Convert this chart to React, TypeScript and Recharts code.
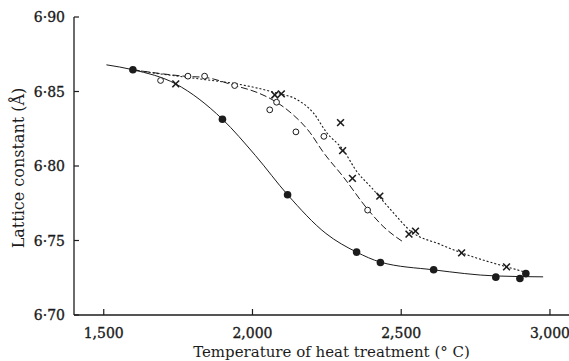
import React from "react";
import { ComposedChart, Line, Scatter, XAxis, YAxis } from "recharts";

// Marker data (temperature °C, lattice constant Å)
const filledX = [1598, 1899, 2118, 2350, 2430, 2609, 2818, 2899, 2919];
const filledY = [6.8646, 6.8314, 6.7807, 6.7422, 6.7352, 6.7304, 6.7254, 6.7245, 6.7278];

const openX = [1691, 1783, 1839, 1940, 2058, 2081, 2146, 2240, 2387];
const openY = [6.8574, 6.8603, 6.8603, 6.854, 6.8377, 6.8428, 6.8229, 6.8199, 6.7704];

const crossX = [1742, 2075, 2097, 2296, 2303, 2336, 2428, 2526, 2548, 2703, 2854];
const crossY = [6.8551, 6.8477, 6.8484, 6.8291, 6.8103, 6.7917, 6.7798, 6.7543, 6.7563, 6.7417, 6.7323];

// Hand-drawn fitted curves
const solidCurveX = [1509, 1598, 1742, 1899, 2010, 2118, 2247, 2350, 2430, 2609, 2818, 2977];
const solidCurveY = [6.8679, 6.8646, 6.8551, 6.8314, 6.807, 6.7807, 6.7547, 6.7422, 6.7355, 6.7303, 6.7262, 6.7256];

const dashedCurveX = [1598, 1700, 1783, 1839, 1940, 2020, 2081, 2126, 2193, 2237, 2305, 2387, 2439, 2506];
const dashedCurveY = [6.8646, 6.8618, 6.8601, 6.8595, 6.854, 6.849, 6.8428, 6.8362, 6.8225, 6.8095, 6.7928, 6.771, 6.7595, 6.7491];

const dottedCurveX = [1598, 1666, 1840, 1950, 2080, 2150, 2204, 2249, 2305, 2350, 2400, 2462, 2537, 2630, 2703, 2854, 2914];
const dottedCurveY = [6.8646, 6.8625, 6.858, 6.855, 6.849, 6.8445, 6.8358, 6.8225, 6.8108, 6.7965, 6.7855, 6.7712, 6.7555, 6.7475, 6.7417, 6.7323, 6.729];

const xTicks = [1500, 2000, 2500, 3000];
const yTicks = [6.7, 6.75, 6.8, 6.85, 6.9];

const xTitle = "Temperature of heat treatment (° C)";
const yTitle = "Lattice constant (Å)";

const zip = (xs: number[], ys: number[]) => xs.map((x, i) => ({ x, y: ys[i] }));

const filled = zip(filledX, filledY);
const open = zip(openX, openY);
const cross = zip(crossX, crossY);
const solidCurve = zip(solidCurveX, solidCurveY);
const dashedCurve = zip(dashedCurveX, dashedCurveY);
const dottedCurve = zip(dottedCurveX, dottedCurveY);

const INK = "#1c1c1c";
const FONT = "'DejaVu Serif', serif";

const XTick = (props: any) => {
  const { x, y, payload } = props;
  return (
    <g>
      <line x1={x} x2={x} y1={y} y2={y - 6} stroke={INK} strokeWidth={1.2} />
      <text x={x} y={y + 18} textAnchor="middle" dominantBaseline="central" fontFamily={FONT} fontSize={14} stroke={INK} strokeWidth={0.35} fill={INK}>
        {Number(payload.value).toLocaleString("en-US")}
      </text>
    </g>
  );
};

const YTick = (props: any) => {
  const { x, y, payload } = props;
  return (
    <g>
      <line x1={x} x2={x + 5} y1={y} y2={y} stroke={INK} strokeWidth={1.2} />
      <text x={x - 9} y={y} textAnchor="end" dominantBaseline="central" fontFamily={FONT} fontSize={14} stroke={INK} strokeWidth={0.35} fill={INK}>
        {Number(payload.value).toFixed(2).replace(".", "·")}
      </text>
    </g>
  );
};

const FilledDot = (p: any) => <circle cx={p.cx} cy={p.cy} r={3.8} fill={INK} />;
const OpenDot = (p: any) => <circle cx={p.cx} cy={p.cy} r={2.9} fill="#fff" stroke={INK} strokeWidth={1} />;
const CrossMark = (p: any) => (
  <g stroke={INK} strokeWidth={1.6}>
    <line x1={p.cx - 3.4} y1={p.cy - 3.4} x2={p.cx + 3.4} y2={p.cy + 3.4} />
    <line x1={p.cx - 3.4} y1={p.cy + 3.4} x2={p.cx + 3.4} y2={p.cy - 3.4} />
  </g>
);

export default function App() {
  return (
    <div style={{ position: "absolute", left: 0, top: 0, background: "#fff" }}>
      <ComposedChart width={569} height={361} margin={{ top: 17, right: 0, bottom: 0, left: 0 }}>
        <XAxis
          type="number"
          dataKey="x"
          domain={[1400, 3064]}
          ticks={xTicks}
          allowDataOverflow
          height={46}
          tickSize={0}
          tickMargin={0}
          tick={<XTick />}
          axisLine={{ stroke: INK, strokeWidth: 1.3 }}
          label={{
            content: (props: any) => {
              const vb = props.viewBox;
              return (
                <text x={vb.x + vb.width / 2 + 10} y={352} textAnchor="middle" dominantBaseline="central" fontFamily={FONT} fontSize={15} fill={INK}>
                  {xTitle}
                </text>
              );
            },
          }}
        />
        <YAxis
          type="number"
          dataKey="y"
          domain={[6.7, 6.9]}
          ticks={yTicks}
          allowDataOverflow
          width={74}
          tickSize={0}
          tickMargin={0}
          tick={<YTick />}
          axisLine={{ stroke: INK, strokeWidth: 1.3 }}
          label={{
            content: (props: any) => {
              const vb = props.viewBox;
              const cx = 18;
              const cy = vb.y + vb.height / 2 + 2;
              return (
                <text x={cx} y={cy} transform={`rotate(-90, ${cx}, ${cy})`} textAnchor="middle" dominantBaseline="central" fontFamily={FONT} fontSize={16} fill={INK}>
                  {yTitle}
                </text>
              );
            },
          }}
        />
        <Line data={solidCurve} dataKey="y" type="monotone" dot={false} activeDot={false} stroke={INK} strokeWidth={1} isAnimationActive={false} />
        <Line data={dashedCurve} dataKey="y" type="monotone" dot={false} activeDot={false} stroke={INK} strokeWidth={1} strokeDasharray="7 3" isAnimationActive={false} />
        <Line data={dottedCurve} dataKey="y" type="monotone" dot={false} activeDot={false} stroke={INK} strokeWidth={1.1} strokeDasharray="2 2" isAnimationActive={false} />
        <Scatter data={open} dataKey="y" shape={<OpenDot />} isAnimationActive={false} />
        <Scatter data={cross} dataKey="y" shape={<CrossMark />} isAnimationActive={false} />
        <Scatter data={filled} dataKey="y" shape={<FilledDot />} isAnimationActive={false} />
      </ComposedChart>
    </div>
  );
}
